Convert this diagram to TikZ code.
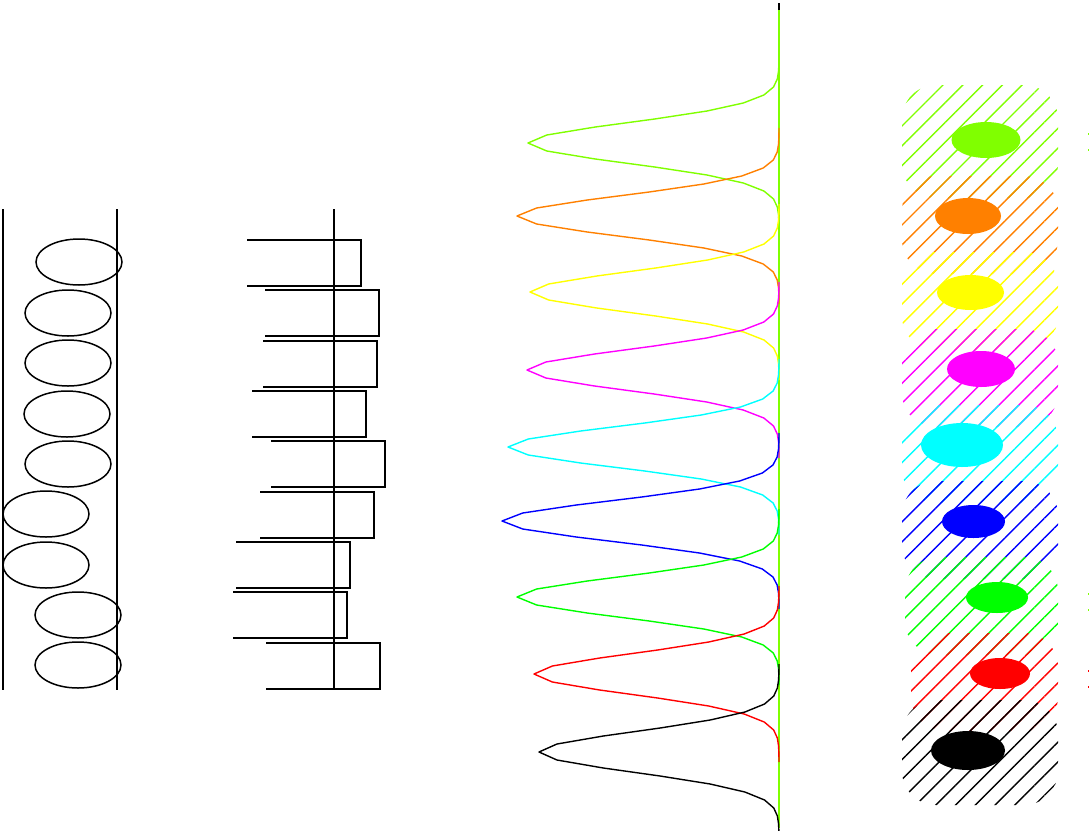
\documentclass[tikz,border=0pt]{standalone}
\usetikzlibrary{patterns.meta}
\definecolor{cA}{RGB}{128,255,0}
\definecolor{cB}{RGB}{255,128,0}
\definecolor{cC}{RGB}{255,255,0}
\definecolor{cD}{RGB}{255,0,255}
\definecolor{cE}{RGB}{0,255,255}
\definecolor{cF}{RGB}{0,0,255}
\definecolor{cG}{RGB}{0,255,0}
\definecolor{cH}{RGB}{255,0,0}
\definecolor{cI}{RGB}{0,0,0}
\tikzset{
  outl/.style={line width=1.5pt, black},
  peakline/.style={line width=1.4pt, line join=round},
  band/.style={pattern={Lines[angle=45,distance=14pt,line width=1.4pt]}, rounded corners=34pt},
}
\newcommand{\peak}[3]{% color, center y, amplitude
  \draw[peakline, #1] plot[domain={#2-88}:{#2+88}, samples=23, variable=\t]
    ({779-#3*exp(-((\t-#2)*(\t-#2))/820)}, \t);
}
\newcommand{\bandbox}[4]{% color, left x, top y, bottom y
  \path[band, pattern color=#1] (#2,#3) rectangle (1058,#4);
}
\begin{document}
\begin{tikzpicture}[x=1pt,y=-1pt]
\useasboundingbox (0,0) rectangle (1091,830);

% left column: rails and ellipses
\draw[outl] (3,209) -- (3,690);
\draw[outl] (117,209) -- (117,690);
\foreach \cx/\cy in {79/262, 68/313, 68/363, 67/414, 68/464, 46/514, 46/565, 78/615, 78/665}
  \draw[outl] (\cx,\cy) ellipse [x radius=43, y radius=23];

% middle column: axis and open boxes
\draw[outl] (334,209) -- (334,690);
\foreach \l/\t in {247/240, 265/290, 263/341, 252/391, 271/441, 260/492, 236/542, 233/592, 266/643}
  \draw[outl] (\l,\t) -- ({\l+114},\t) -- ({\l+114},{\t+46}) -- (\l,{\t+46});

% peaks
\draw[line width=1.4pt, black] (779,3) -- (779,828);
\draw[line width=1.4pt, cA] (779,10) -- (779,828);
\peak{cA}{143}{251}
\peak{cB}{216}{262}
\peak{cC}{292}{249}
\peak{cD}{370}{252}
\peak{cE}{447}{271}
\peak{cF}{521}{277}
\peak{cG}{597}{262}
\peak{cH}{674}{245}
\peak{cI}{752}{240}

% hatched bands
\bandbox{cA}{902}{85}{198}
\bandbox{cB}{902}{176}{274}
\bandbox{cC}{902}{252}{350}
\bandbox{cD}{902}{329}{427}
\bandbox{cE}{902}{405}{503}
\bandbox{cF}{902}{481}{579}
\bandbox{cG}{905}{557}{655}
\bandbox{cH}{911}{633}{731}
\bandbox{cI}{902}{700}{805}

% spots
\fill[cA] (986,140) ellipse [x radius=34.5, y radius=18];
\fill[cB] (968,216) ellipse [x radius=33, y radius=18];
\fill[cC] (970.5,292.5) ellipse [x radius=33.5, y radius=17.5];
\fill[cD] (981,369) ellipse [x radius=34, y radius=18];
\fill[cE] (962,445) ellipse [x radius=41, y radius=22];
\fill[cF] (973.5,521.5) ellipse [x radius=31.5, y radius=16.5];
\fill[cG] (997,597.5) ellipse [x radius=31, y radius=15.5];
\fill[cH] (1000,673.5) ellipse [x radius=30, y radius=15.5];
\fill[cI] (968,750.5) ellipse [x radius=37, y radius=19.5];

% tiny marks at right edge
\foreach \yy in {133,149,593,609}
  \fill[cA] (1087.5,\yy) rectangle (1089,{\yy+2});
\foreach \yy in {670,686}
  \fill[cH] (1087.5,\yy) rectangle (1089,{\yy+2});
\end{tikzpicture}
\end{document}
